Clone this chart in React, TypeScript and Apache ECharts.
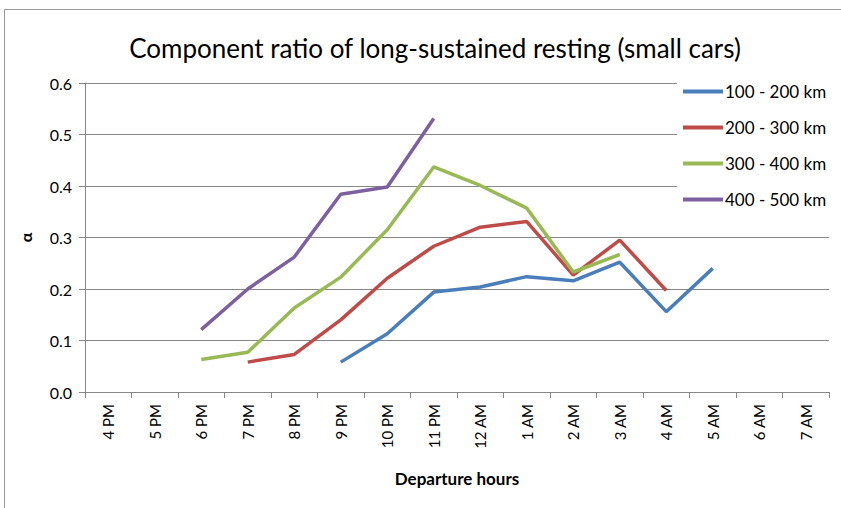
import React, { useEffect, useRef } from "react";
import * as echarts from "echarts";

const categories = ["4 PM", "5 PM", "6 PM", "7 PM", "8 PM", "9 PM", "10 PM", "11 PM", "12 AM", "1 AM", "2 AM", "3 AM", "4 AM", "5 AM", "6 AM", "7 AM"];
const seriesNames = ["100 - 200 km", "200 - 300 km", "300 - 400 km", "400 - 500 km"];
const s100_200 = [null, null, null, null, null, 0.058, 0.113, 0.194, 0.204, 0.224, 0.216, 0.252, 0.156, 0.240, null, null];
const s200_300 = [null, null, null, 0.058, 0.073, 0.140, 0.221, 0.283, 0.320, 0.331, 0.227, 0.295, 0.197, null, null, null];
const s300_400 = [null, null, 0.063, 0.077, 0.163, 0.223, 0.315, 0.437, 0.401, 0.357, 0.233, 0.267, null, null, null, null];
const s400_500 = [null, null, 0.121, 0.200, 0.262, 0.384, 0.398, 0.531, null, null, null, null, null, null, null, null];
const colors = ["#4A7EBB", "#BE4B48", "#98B954", "#7D60A0"];

const FONT = "Lato, 'Open Sans', sans-serif";

export default function App() {
  const ref = useRef<HTMLDivElement>(null);
  useEffect(() => {
    if (!ref.current) return;
    const chart = echarts.init(ref.current, null, { renderer: "svg" });
    const data = [s100_200, s200_300, s300_400, s400_500];
    chart.setOption({
      animation: false,
      backgroundColor: "#fff",
      textStyle: { fontFamily: FONT },
      title: {
        text: "Component ratio of long-sustained resting (small cars)",
        left: 430,
        textAlign: "center",
        top: 30,
        textStyle: { fontFamily: FONT, fontSize: 26, fontWeight: "normal", color: "#000" },
      },
      graphic: [
        {
          type: "rect",
          shape: { x: 4.5, y: 9.5, width: 850, height: 520 },
          style: { fill: "none", stroke: "#999", lineWidth: 1 },
          silent: true,
        },
      ],
      legend: {
        orient: "vertical",
        left: 677,
        top: 77,
        itemWidth: 40,
        itemHeight: 4,
        itemGap: 19,
        padding: [6, 8, 6, 6],
        backgroundColor: "#fff",
        icon: "rect",
        textStyle: { fontFamily: FONT, fontSize: 17, color: "#000", padding: [0, 0, 0, -3] },
        data: seriesNames,
      },
      grid: { left: 85, right: 12, top: 83, bottom: 116, containLabel: false },
      xAxis: {
        type: "category",
        data: categories,
        boundaryGap: true,
        name: "Departure hours",
        nameLocation: "middle",
        nameGap: 78,
        nameTextStyle: { fontFamily: FONT, fontSize: 17, fontWeight: "bold", color: "#000" },
        axisLine: { lineStyle: { color: "#868686", width: 1 } },
        axisTick: { show: true, alignWithLabel: false, length: 6, lineStyle: { color: "#868686" } },
        axisLabel: { rotate: 90, fontFamily: FONT, fontSize: 15, color: "#000", margin: 12 },
      },
      yAxis: {
        type: "value",
        min: 0,
        max: 0.6,
        interval: 0.1,
        name: "α",
        nameLocation: "middle",
        nameGap: 52,
        nameTextStyle: { fontFamily: FONT, fontSize: 16, fontWeight: "bold", color: "#000" },
        axisLine: { show: true, lineStyle: { color: "#868686", width: 1 } },
        axisTick: { show: true, length: 6, lineStyle: { color: "#868686" } },
        axisLabel: {
          fontFamily: FONT,
          fontSize: 16,
          color: "#000",
          margin: 13,
          formatter: (v: number) => v.toFixed(1),
        },
        splitLine: { lineStyle: { color: "#868686", width: 1 } },
      },
      series: seriesNames.map((name, i) => ({
        name,
        type: "line",
        data: data[i],
        connectNulls: false,
        showSymbol: false,
        symbol: "none",
        color: colors[i],
        lineStyle: { color: colors[i], width: 3.5 },
        z: 3 + i,
      })),
    });
    return () => chart.dispose();
  }, []);
  return <div ref={ref} style={{ position: "fixed", left: 0, top: 0, width: 841, height: 508 }} />;
}
